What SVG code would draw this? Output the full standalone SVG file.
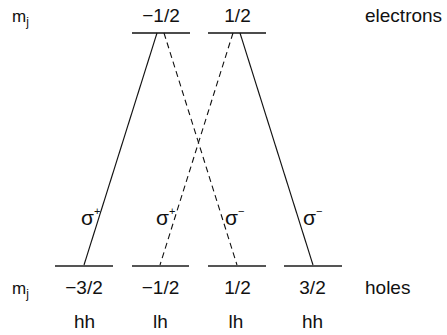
<svg xmlns="http://www.w3.org/2000/svg" width="447" height="335" viewBox="0 0 447 335">
<style>
text{font-family:"Liberation Sans",Arial,sans-serif;font-size:19px;fill:#111}
.c{text-anchor:middle}
.m{font-size:17px}
.sub{font-size:12px}
.sig{font-size:21px}
.sup{font-size:11px}
.lvt{stroke:#111;stroke-width:1.5}
.lvb{stroke:#555;stroke-width:2}
.tr{stroke:#111;stroke-width:1.1;fill:none}
.d{stroke-dasharray:6 4}
</style>
<rect width="447" height="335" fill="#fff"/>
<g id="labels-top">
<text class="m" x="12" y="22">m<tspan class="sub" dy="4">j</tspan></text>
<text x="365" y="22">electrons</text>
</g>
<g id="e-m12">
<line class="lvt" x1="132" y1="33" x2="190" y2="33"/>
<text class="c" x="161" y="22">−1/2</text>
</g>
<g id="e-p12">
<line class="lvt" x1="208" y1="33" x2="266" y2="33"/>
<text class="c" x="237.5" y="22">1/2</text>
</g>
<g id="h-m32">
<line class="lvb" x1="55" y1="266" x2="113" y2="266"/>
<text class="c" x="84" y="294">−3/2</text>
<text class="c" x="84.5" y="328">hh</text>
</g>
<g id="h-m12">
<line class="lvb" x1="132" y1="266" x2="189" y2="266"/>
<text class="c" x="160.5" y="294">−1/2</text>
<text class="c" x="160.5" y="328">lh</text>
</g>
<g id="h-p12">
<line class="lvb" x1="208" y1="266" x2="266" y2="266"/>
<text class="c" x="237.5" y="294">1/2</text>
<text class="c" x="236" y="328">lh</text>
</g>
<g id="h-p32">
<line class="lvb" x1="284" y1="266" x2="342" y2="266"/>
<text class="c" x="312.5" y="294">3/2</text>
<text class="c" x="312.5" y="328">hh</text>
</g>
<g id="labels-bottom">
<text class="m" x="12" y="294">m<tspan class="sub" dy="4">j</tspan></text>
<text x="365" y="294">holes</text>
</g>
<g id="connectors">
<line class="tr" x1="157" y1="33" x2="84" y2="265"/>
<line class="tr d" x1="164" y1="33" x2="237" y2="265"/>
<line class="tr d" x1="233" y1="33" x2="160" y2="265"/>
<line class="tr" x1="240" y1="33" x2="313" y2="265"/>
<text class="sig" x="81" y="225">σ<tspan class="sup" dy="-10">+</tspan></text>
<text class="sig" x="156" y="225">σ<tspan class="sup" dy="-10">+</tspan></text>
<text class="sig" x="225" y="225">σ<tspan class="sup" dy="-10">−</tspan></text>
<text class="sig" x="303" y="225">σ<tspan class="sup" dy="-10">−</tspan></text>
</g>
</svg>
